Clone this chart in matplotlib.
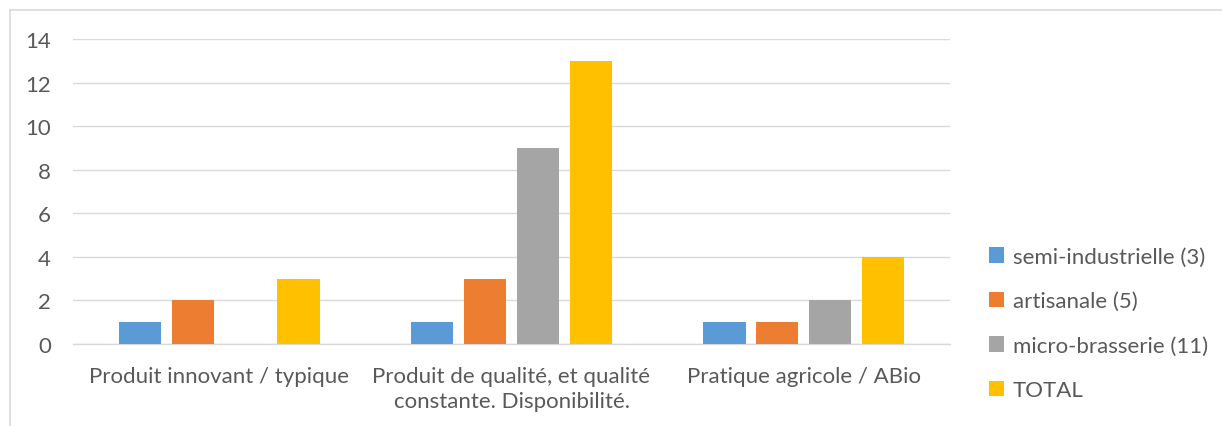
import matplotlib
matplotlib.use("Agg")
import matplotlib.pyplot as plt
import numpy as np
from matplotlib.lines import Line2D
from matplotlib.patches import Patch

categories = ["Produit innovant / typique",
              "Produit de qualité, et qualité\nconstante. Disponibilité.",
              "Pratique agricole / ABio"]
series_names = ["semi-industrielle (3)", "artisanale (5)", "micro-brasserie (11)", "TOTAL"]
semi_industrielle = [1, 1, 1]
artisanale = [2, 3, 1]
micro_brasserie = [0, 9, 2]
total = [3, 13, 4]
colors = ["#5B9BD5", "#ED7D31", "#A5A5A5", "#FFC000"]
yticks = [0, 2, 4, 6, 8, 10, 12, 14]

plt.rcParams['font.family'] = ['Lato', 'DejaVu Sans']
txt = "#595959"
fs = 16

fig = plt.figure(figsize=(12.22, 4.27), dpi=100)
W, H = 1222, 427
ax = fig.add_axes([73 / W, 1 - 345 / H, (950 - 73) / W, (345 - 40) / H])

x = np.arange(len(categories))
bw = 0.144
step = 0.181
data = [semi_industrielle, artisanale, micro_brasserie, total]
for i, (vals, c) in enumerate(zip(data, colors)):
    ax.bar(x + (i - 1.5) * step, vals, width=bw, color=c, zorder=3)

ax.set_xlim(-0.5, 2.5)
ax.set_ylim(0, 14)
ax.set_yticks(yticks)
ax.yaxis.grid(True, color="#D9D9D9", linewidth=1, zorder=0)
for s in ["top", "right", "left"]:
    ax.spines[s].set_visible(False)
ax.spines["bottom"].set_color("#D9D9D9")
ax.spines["bottom"].set_linewidth(1)
ax.tick_params(axis="both", length=0, colors=txt, labelsize=fs)
ax.tick_params(axis="y", pad=16)
ax.tick_params(axis="x", pad=16)
ax.set_xticks(x)
ax.set_xticklabels(categories, linespacing=1.3)

handles = [Patch(facecolor=c, edgecolor="none") for c in colors]
leg = fig.legend(handles, series_names, loc="upper left",
                 bbox_to_anchor=(980 / W, 1 - 239 / H), frameon=False,
                 fontsize=fs, labelcolor=txt, handlelength=0.68, handleheight=0.68,
                 handletextpad=0.4, labelspacing=1.1, borderaxespad=0)

# chart border (top and left visible)
fig.add_artist(Line2D([10 / W, 1], [1 - 11 / H, 1 - 11 / H], color="#D9D9D9", lw=1.2, transform=fig.transFigure))
fig.add_artist(Line2D([10 / W, 10 / W], [0, 1 - 11 / H], color="#D9D9D9", lw=1.2, transform=fig.transFigure))

fig.savefig("out.png", dpi=100)
